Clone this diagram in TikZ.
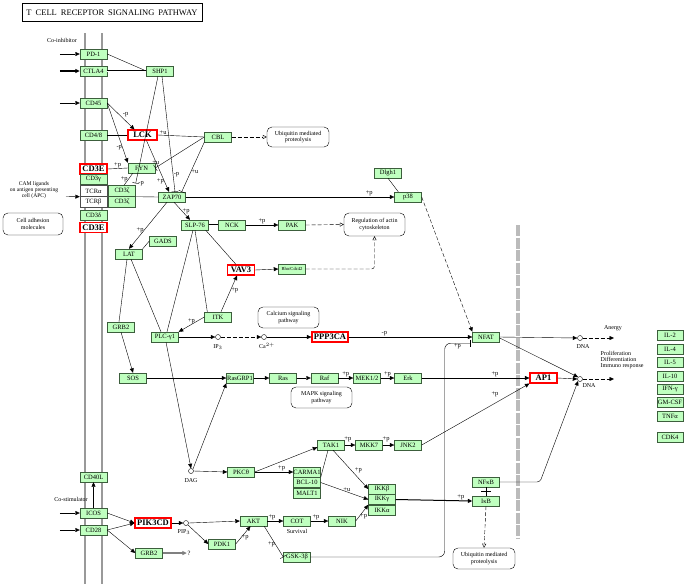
\documentclass[tikz,border=0pt]{standalone}
\usepackage{fontspec}
\setmainfont{Liberation Serif}
\usepackage{tikz}
\usetikzlibrary{arrows.meta,calc}
\definecolor{genefill}{HTML}{BFFFBF}
\definecolor{geneline}{HTML}{3C5E3C}
\definecolor{hitred}{HTML}{FF0000}
\definecolor{membgray}{HTML}{999999}
\definecolor{nucgray}{HTML}{BBBBBB}
\tikzset{
  every node/.append style={font=\rmfamily},
  gene/.style={draw=geneline, fill=genefill, minimum width=27pt, minimum height=10pt,
    inner sep=0pt, font=\fontsize{6.5}{6.5}\selectfont},
  hit/.style={gene, draw=hitred, fill=white, line width=1.1pt, font=\fontsize{8.5}{8.5}\selectfont\bfseries},
  rcpt/.style={gene, fill=white, draw=black!70},
  cpd/.style={circle, draw, fill=white, inner sep=0pt, minimum size=5pt},
  pway/.style={draw, rounded corners=5pt, align=center, inner sep=1pt, font=\fontsize{6}{6.3}\selectfont},
  txt/.style={align=center, inner sep=0.5pt, font=\fontsize{6}{6.3}\selectfont},
  lab/.style={inner sep=0.5pt, font=\fontsize{6.5}{6.5}\selectfont},
  act/.style={-{Triangle[length=4.5pt,width=4pt]}},
  inh/.style={-{Bar[width=7pt]}},
  ind/.style={dash pattern=on 4pt off 2pt, -{Triangle[open,length=4pt,width=4pt]}},
  dsh/.style={dash pattern=on 4pt off 2pt},
  bnd/.style={double, double distance=0.7pt},
}

\begin{document}
\begin{tikzpicture}[x=1pt,y=-1pt]
  \useasboundingbox (0,0) rectangle (687,584);
  \node[draw, line width=1pt, minimum width=180pt, minimum height=18pt,
    font=\fontsize{8.5}{8.5}\selectfont] (title) at (112,12.5)
    {T\hspace{4pt}CELL\hspace{4pt}RECEPTOR\hspace{4pt}SIGNALING\hspace{4pt}PATHWAY};

  % membranes
  \draw[membgray, line width=2.5pt] (85,33) -- (85,584);
  \draw[membgray, line width=2.5pt] (102,33) -- (102,584);
  \draw[nucgray, line width=4pt, dash pattern=on 11pt off 1.5pt] (518,225) -- (518,538);

  % receptors
  \node[gene] (pd1) at (93.5,54) {PD-1};
  \node[gene] (ctla4) at (93.5,71) {CTLA4};
  \node[gene] (cd45) at (93.5,103) {CD45};
  \node[gene] (cd48) at (93.5,135) {CD4/8};
  \node[hit] (cd3ea) at (93.5,169) {CD3E};
  \node[gene] (cd3g) at (93.5,179.5) {CD3γ};
  \node[rcpt, minimum height=11pt] (tcra) at (93.5,191) {TCRα};
  \node[rcpt, minimum height=11pt] (tcrb) at (93.5,202) {TCRβ};
  \node[gene, minimum height=11pt] (cd3za) at (122,191) {CD3ζ};
  \node[gene, minimum height=11pt] (cd3zb) at (122,202) {CD3ζ};
  \node[gene] (cd3d) at (93.5,215.5) {CD3δ};
  \node[hit] (cd3eb) at (93.5,227.5) {CD3E};
  \node[gene] (cd40l) at (93.5,477) {CD40L};
  \node[gene] (icos) at (93.5,513) {ICOS};
  \node[gene] (cd28) at (93.5,530) {CD28};

  \node[txt] (coinh) at (62,40) {Co-inhibitor};
  \node[txt] (costim) at (71,499) {Co-stimulator};
  \node[txt, font=\fontsize{5.6}{6}\selectfont] (cam) at (34,190) {CAM ligands\\on antigen presenting\\cell (APC)};
  \node[pway, minimum width=60pt, minimum height=22pt] (adhes) at (33,224) {Cell adhesion\\molecules};
  \coordinate (camin) at (66,196.5);

  % upstream
  \node[gene] (shp1) at (160,71) {SHP1};
  \node[hit, minimum width=29pt] (lck) at (142.5,135) {LCK};
  \node[gene] (fyn) at (141.5,168) {FYN};
  \node[gene] (cbl) at (218,137) {CBL};
  \node[pway, minimum width=62pt, minimum height=20pt] (ubq1) at (298,137) {Ubiquitin mediated\\proteolysis};
  \node[gene] (zap70) at (172,197) {ZAP70};
  \node[gene] (dlgh1) at (388,173) {Dlgh1};
  \node[gene] (p38) at (408,197) {p38};
  \node[gene] (slp76) at (195,225) {SLP-76};
  \node[gene] (gads) at (163,241) {GADS};
  \node[gene] (lat) at (129,254) {LAT};
  \node[gene] (nck) at (232,225) {NCK};
  \node[gene] (pak) at (292,225) {PAK};
  \node[pway, minimum width=61pt, minimum height=23pt] (actin) at (374.5,224.5) {Regulation of actin\\cytoskeleton};
  \node[hit] (vav3) at (241,270) {VAV3};
  \node[gene, font=\fontsize{4.6}{5}\selectfont] (rho) at (292,269) {Rho/Cdc42};
  \node[gene] (itk) at (218,317) {ITK};
  \node[gene] (plc) at (165,337) {PLC-γ1};
  \node[gene] (grb2a) at (121,327) {GRB2};
  \node[gene] (sos) at (133,378) {SOS};

  % second messengers
  \node[cpd] (ip3) at (218,337) {};
  \node[txt] (ip3lab) at (218,347) {IP$_3$};
  \node[cpd] (ca) at (264,337) {};
  \node[txt] (calab) at (267,346) {Ca$^{2+}$};
  \node[pway, minimum width=61pt, minimum height=21pt] (calc) at (288.5,317.5) {Calcium signaling\\pathway};
  \node[hit, minimum width=36pt] (ppp3ca) at (330,337) {PPP3CA};
  \node[cpd] (dag) at (191,471) {};
  \node[txt] (daglab) at (191,481) {DAG};
  \node[cpd] (pip3) at (186,523) {};
  \node[txt] (pip3lab) at (184,532) {PIP$_3$};

  % MAPK
  \node[gene] (rasgrp1) at (240,378) {RasGRP1};
  \node[gene] (ras) at (283,378) {Ras};
  \node[gene] (raf) at (324.5,378) {Raf};
  \node[gene] (mek) at (367,378) {MEK1/2};
  \node[gene] (erk) at (408,378) {Erk};
  \node[pway, minimum width=61pt, minimum height=21pt] (mapk) at (321.5,397.5) {MAPK signaling\\pathway};
  \node[gene] (pkc) at (241,472) {PKCθ};
  \node[gene] (tak1) at (331,445) {TAK1};
  \node[gene] (mkk7) at (369,445) {MKK7};
  \node[gene] (jnk2) at (408,445) {JNK2};
  \node[gene] (carma1) at (307,472) {CARMA1};
  \node[gene] (bcl10) at (307,482.5) {BCL-10};
  \node[gene] (malt1) at (307,493) {MALT1};
  \node[gene] (ikkb) at (382,489) {IKKβ};
  \node[gene] (ikkg) at (382,499.5) {IKKγ};
  \node[gene] (ikka) at (382,510) {IKKα};

  % PI3K branch
  \node[hit, minimum width=36pt] (pik3cd) at (153,523) {PIK3CD};
  \node[gene] (grb2b) at (149,553) {GRB2};
  \node[lab] (qmark) at (189,553) {?};
  \node[gene] (pdk1) at (222,544) {PDK1};
  \node[gene] (akt) at (253.5,521) {AKT};
  \node[gene] (cot) at (297,521) {COT};
  \node[txt] (survival) at (297,531) {Survival};
  \node[gene] (nik) at (342,521) {NIK};
  \node[gene] (gsk) at (297,557) {GSK-3β};

  % nucleus
  \node[gene] (nfat) at (486,337) {NFAT};
  \node[hit] (ap1) at (543.5,378) {AP1};
  \node[gene] (nfkb) at (486,482) {NFκB};
  \node[gene] (ikb) at (486,501) {IκB};
  \node[pway, minimum width=62pt, minimum height=21pt] (ubq2) at (484,558.5) {Ubiquitin mediated\\proteolysis};
  \node[cpd] (dna1) at (580,338) {};
  \node[txt] (dna1lab) at (583,347) {DNA};
  \node[cpd] (dna2) at (580,379) {};
  \node[txt] (dna2lab) at (589,386) {DNA};
  \node[txt] (anergy) at (613,328) {Anergy};
  \node[txt, align=left, anchor=west] (prolif) at (600,360) {Proliferation\\Differentiation\\Immuno response};
  \coordinate (anergyend) at (614,338);
  \coordinate (prolifend) at (614,379);
  \coordinate (nfkbbend) at (540,482);
  \foreach \n/\y/\t in {il2/335/IL-2, il4/349/IL-4, il5/362.5/IL-5, il10/376/IL-10,
      ifng/389/IFN-γ, gmcsf/402/GM-CSF, tnfa/416/TNFα, cdk4/437/CDK4}
    \node[gene, minimum width=26pt] (\n) at (670,\y) {\t};

  % inputs
  \foreach \n in {pd1,cd45,icos,cd28}
    \draw[act] ([xshift=-20pt]\n.west) -- (\n.west);
  \draw[act, line width=1.2pt] ([xshift=-20pt]ctla4.west) -- (ctla4.west);
  \draw[act] (camin) -- (tcra.south west);

  % TCR proximal
  \draw (pd1.east) -- (shp1.west);
  \draw[bnd] (ctla4.east) -- (shp1.west);
  \draw[act] (cd45.east) -- node[lab, above right, pos=.55]{-p} ([xshift=7pt]lck.north west);
  \draw[act] (cd45.east) -- node[lab, left, pos=.75]{-p} (fyn.north west);
  \draw (cd48.east) -- (lck.west);
  \draw (lck.east) -- node[lab, above, pos=.12]{+u} (cbl.west);
  \draw[inh] (cbl.west) -- node[lab, above left, pos=.9]{+u} (fyn.east);
  \draw[inh] (cbl.south west) -- node[lab, right, pos=.6]{+u} ([xshift=-4pt]zap70.north east);
  \draw[ind] (cbl.east) -- (ubq1.west);
  \draw[inh] ([xshift=-2pt]shp1.south) -- node[lab, anchor=west, pos=1, xshift=2pt]{-p} ([yshift=2pt]cd3za.north east);
  \draw[inh] ([xshift=2pt]shp1.south) -- node[lab, right, pos=.85]{-p} ([xshift=3pt]zap70.north);
  \draw[act] ([xshift=4pt]lck.south) -- node[lab, left, pos=.8]{+p} ([xshift=-3pt]zap70.north);
  \draw (cd3ea.east) -- node[lab, above]{+p} (fyn.west);
  \draw ([xshift=5pt]fyn.south west) -- node[lab, left]{+p} ([xshift=2pt]cd3za.north);
  \draw (cd3za.south east) -- (zap70.west);
  \draw[act] (zap70.east) -- node[lab, above, pos=.88]{+p} (p38.west);
  \draw (dlgh1.south) -- ([xshift=4pt]p38.north west);
  \draw[dsh, act] (p38.east) -- (nfat.north west);
  \draw[act] ([xshift=2pt]zap70.south) -- node[lab, right]{+p} ([xshift=-5pt]slp76.north);
  \draw[act] ([xshift=-5pt]zap70.south) -- node[lab, left, pos=.6]{+p} (lat.north);
  \draw (gads.west) -- (lat.north east);
  \draw[bnd] (slp76.east) -- (nck.west);
  \draw[act] (nck.east) -- node[lab, above]{+p} (pak.west);
  \draw[ind] (pak.east) -- (actin.west);
  \draw ([xshift=-3pt]slp76.south east) -- ([xshift=-5pt]vav3.north);
  \draw (slp76.south) -- ([xshift=3pt]itk.north west);
  \draw ([xshift=-2pt]slp76.south) -- ([xshift=2pt]plc.north);
  \draw ([xshift=-2pt]lat.south) -- ([xshift=-2pt]grb2a.north);
  \draw ([xshift=2pt]lat.south) -- ([xshift=-4pt]plc.north);
  \draw[act] ([xshift=3pt]itk.north) -- node[lab, right, pos=.6]{+p} ([xshift=-4pt]vav3.south);
  \draw[act] (itk.west) -- node[lab, above]{+p} (plc.north east);
  \draw[act] (vav3.east) -- (rho.west);
  \draw[ind, rounded corners=3pt] (rho.east) -| (actin.south);

  % calcium
  \draw[act] (plc.east) -- (ip3.west);
  \draw[dsh, act] (ip3.east) -- (ca.west);
  \draw[act] (ca.east) -- (ppp3ca.west);
  \draw[act] (ppp3ca.east) -- node[lab, above, pos=.29]{-p} (nfat.west);
  \draw[act] (nfat.east) -- (dna1.west);
  \draw[dsh, act] (dna1.east) -- (anergyend);
  \draw[act] ([yshift=-1pt]nfat.east) -- (dna2.north west);
  \draw[act] (ap1.east) -- (dna2.west);
  \draw[dsh, act] (dna2.east) -- (prolifend);

  % Ras / MAPK
  \draw[act] (grb2a.south) -- (sos.north);
  \draw[act] (sos.east) -- (rasgrp1.west);
  \draw[act] ([xshift=1pt]plc.south) -- (dag.north);
  \draw[act] (dag.north east) -- (rasgrp1.south west);
  \draw[act] (dag.east) -- (pkc.west);
  \draw[act] (rasgrp1.east) -- (ras.west);
  \draw[act] (ras.east) -- (raf.west);
  \draw[act] (raf.east) -- node[lab, above]{+p} (mek.west);
  \draw[act] (mek.east) -- node[lab, above]{+p} (erk.west);
  \draw[act] (erk.east) -- node[lab, above, pos=.68]{+p} (ap1.west);
  \draw[act] (jnk2.east) -- node[lab, above=6pt, pos=.68]{+p} (ap1.south west);

  % PKC / NF-kB
  \draw[act] (pkc.east) -- ([yshift=3pt]tak1.south west);
  \draw[act] (pkc.east) -- node[lab, above, pos=.7]{+p} (carma1.west);
  \draw[act] (tak1.east) -- node[lab, above=2pt, pos=.3]{+p} (mkk7.west);
  \draw[act] (mkk7.east) -- node[lab, above=2pt, pos=.3]{+p} (jnk2.west);
  \draw ([xshift=-3pt]tak1.south) -- (carma1.south east);
  \draw[act] ([xshift=2pt]tak1.south) -- node[lab, above right, pos=.6]{+p} (ikkb.west);
  \draw[act] (bcl10.east) -- node[lab, above, pos=.55]{+u} (ikkg.west);
  \draw[act] (nik.east) -- node[lab, right, pos=.3]{+p} (ikka.north west);
  \draw[act, line width=1pt] (ikkg.east) -- node[lab, above, pos=.85]{+p} (ikb.west);
  \draw (nfkb.south) -- (ikb.north);
  \draw ($(nfkb.south)!.5!(ikb.north)+(-5,0)$) -- ++(10,0);
  \draw[ind] (ikb.south) -- (ubq2.north);
  \draw[act, rounded corners=3pt] (nfkb.east) -- (nfkbbend) -- (dna2.south west);
  \draw[inh, rounded corners=6pt] (gsk.east) -- ++(134,0) |- node[lab, below, pos=.75]{+p}
    ([xshift=-2pt, yshift=-1pt]nfat.south west);

  % PI3K
  \draw[act] (icos.north) -- (cd40l.south);
  \draw[act] (icos.east) -- (pik3cd.west);
  \draw[act] (cd28.east) -- (pik3cd.west);
  \draw[act] (cd28.east) -- (grb2b.west);
  \draw[act, gray, line width=1.2pt] (grb2b.east) -- (qmark.west);
  \draw[act] (pik3cd.east) -- (pip3.west);
  \draw[act] (pip3.east) -- (akt.west);
  \draw[act] (pip3.south east) -- (pdk1.west);
  \draw[act] (pdk1.east) -- node[lab, right, pos=.35]{+p} ([xshift=-3pt]akt.south);
  \draw[act] (akt.east) -- node[lab, above, pos=.3]{+p} (cot.west);
  \draw[act] (cot.east) -- node[lab, above, pos=.3]{+p} (nik.west);
  \draw[inh] ([xshift=-3pt]akt.south east) -- node[lab, left, pos=.6]{+p} (gsk.west);
\end{tikzpicture}
\end{document}
